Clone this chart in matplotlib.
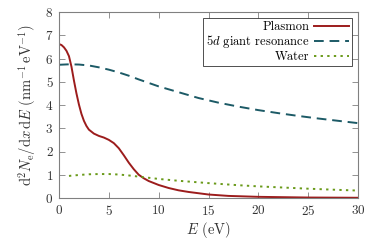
import matplotlib
matplotlib.use('Agg')
import matplotlib.pyplot as plt
import numpy as np

plt.rcParams['font.family'] = 'serif'
plt.rcParams['font.serif'] = ['cmr10']
plt.rcParams['mathtext.fontset'] = 'cm'
plt.rcParams['axes.formatter.use_mathtext'] = True

# Plasmon curve
e_plasmon = [0, 0.25, 0.5, 0.75, 1, 1.25, 1.5, 1.75, 2, 2.25, 2.5, 2.75, 3, 3.5, 4, 4.5, 5,
             5.5, 6, 6.5, 7, 7.5, 8, 8.5, 9, 10, 11, 12, 13, 15, 17, 20, 25, 30]
y_plasmon = [6.62, 6.58, 6.48, 6.33, 6.1, 5.65, 5.05, 4.5, 4.02, 3.62, 3.32, 3.1, 2.94, 2.77,
             2.67, 2.6, 2.5, 2.36, 2.14, 1.84, 1.52, 1.24, 1.0, 0.85, 0.73, 0.56, 0.43, 0.33,
             0.26, 0.15, 0.09, 0.05, 0.02, 0.01]

# 5d giant resonance
e_giant = [0, 1, 2, 3, 4, 5, 6, 7, 8, 9, 10, 12, 14, 16, 18, 20, 22, 24, 26, 28, 30]
y_giant = [5.73, 5.75, 5.74, 5.7, 5.62, 5.52, 5.4, 5.26, 5.1, 4.95, 4.8, 4.55, 4.3, 4.1, 3.93,
           3.78, 3.65, 3.53, 3.42, 3.32, 3.22]

# Water
e_water = [1, 2, 3, 4, 5, 6, 7, 8, 9, 10, 12, 15, 18, 20, 22, 25, 28, 30]
y_water = [0.95, 0.99, 1.02, 1.03, 1.03, 1.01, 0.97, 0.92, 0.87, 0.82, 0.74, 0.64, 0.55, 0.5,
           0.46, 0.4, 0.35, 0.32]

fig = plt.figure(figsize=(3.74, 2.42), dpi=100)
ax = fig.add_axes([59 / 374, 44 / 242, 299 / 374, 186 / 242])

ax.plot(e_plasmon, y_plasmon, color='#9c1c1c', lw=1.4, label='Plasmon')
ax.plot(e_giant, y_giant, color='#1c5a66', lw=1.4, dashes=(5, 3), label=r'$5d$ giant resonance')
ax.plot(e_water, y_water, color='#6a9a1a', lw=1.4, dashes=(1.2, 2.2), label='Water')

ax.set_xlim(0, 30)
ax.set_ylim(0, 8)
ax.set_xticks(range(0, 31, 5))
ax.set_yticks(range(0, 9))
ax.tick_params(direction='in', top=True, right=True, length=4, width=0.6, color='#808080',
               labelsize=9.5, pad=4, labelcolor='#333333')
for s in ax.spines.values():
    s.set_color('#808080')
    s.set_linewidth(0.8)

ax.set_xlabel(r'$E$ (eV)', fontsize=10.5, labelpad=2, color='#333333')
ax.set_ylabel(r'$\mathrm{d}^2N_\mathrm{e}/\mathrm{d}x\,\mathrm{d}E\ (\mathrm{nm}^{-1}\,\mathrm{eV}^{-1})$',
              fontsize=10.5, labelpad=5, color='#333333')

leg = ax.legend(loc='upper right', markerfirst=False, fontsize=9, frameon=True, fancybox=False,
                handlelength=2.8, borderpad=0.25, labelspacing=0.05, handletextpad=0.4,
                borderaxespad=0.45)
leg.get_frame().set_edgecolor('black')
leg.get_frame().set_linewidth(0.6)
for t in leg.get_texts():
    t.set_ha('right')
leg._legend_box.align = 'right'

fig.savefig('out.png', dpi=100)
